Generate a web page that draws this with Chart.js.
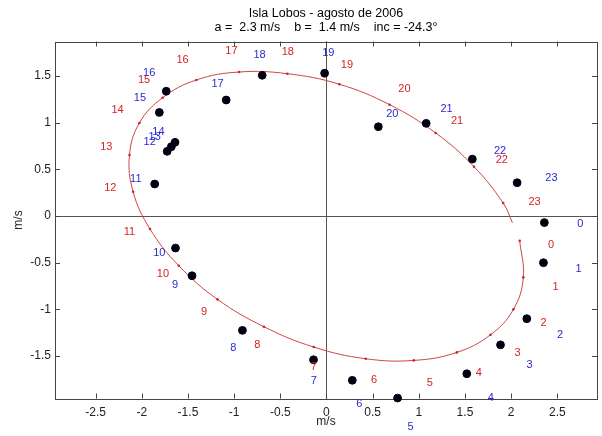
<!DOCTYPE html>
<html lang="es">
<head>
<meta charset="UTF-8" />
<title>Isla Lobos - agosto de 2006</title>
<script src="https://cdn.jsdelivr.net/npm/chart.js"></script>
<style>
  body { margin: 0; background: #fff; }
  #wrap { width: 602px; height: 436px; }
</style>
</head>
<body>
<div id="wrap"><canvas id="chart" width="602" height="436"></canvas></div>
<script>
// hour labels (0..23)
const hours = [0, 1, 2, 3, 4, 5, 6, 7, 8, 9, 10, 11, 12, 13, 14, 15, 16, 17, 18, 19, 20, 21, 22, 23];

// predicted tidal ellipse, hourly points (m/s)
const predX = [2.093, 2.132, 2.025, 1.777, 1.412, 0.946, 0.426, -0.137, -0.677, -1.18, -1.599, -1.911,
               -2.094, -2.133, -2.026, -1.774, -1.409, -0.946, -0.424, 0.14, 0.684, 1.183, 1.598, 1.914];
const predY = [-0.265, -0.657, -1.0, -1.272, -1.461, -1.547, -1.529, -1.404, -1.186, -0.893, -0.533, -0.139,
               0.26, 0.654, 0.997, 1.268, 1.458, 1.543, 1.525, 1.412, 1.193, 0.89, 0.528, 0.139];
// where the drawn curve stops after hour 23
const curveEnd = [2.014, -0.072];

// observed hourly currents (m/s)
const obsX = [2.36, 2.35, 2.17, 1.885, 1.52, 0.77, 0.28, -0.14, -0.91, -1.456, -1.635, -1.86,
              -1.725, -1.68, -1.64, -1.81, -1.735, -1.086, -0.696, -0.02, 0.562, 1.08, 1.58, 2.065];
const obsY = [-0.07, -0.50, -1.10, -1.38, -1.69, -1.95, -1.76, -1.54, -1.225, -0.64, -0.343, 0.343,
              0.693, 0.743, 0.79, 1.11, 1.337, 1.243, 1.508, 1.53, 0.957, 0.993, 0.61, 0.357];

// label anchor points
const obsLabelX = [2.75, 2.73, 2.53, 2.2, 1.78, 0.91, 0.355, -0.137, -1.01, -1.64, -1.81, -2.065,
                   -1.915, -1.86, -1.82, -2.02, -1.92, -1.18, -0.725, 0.02, 0.713, 1.30, 1.88, 2.437];
const obsLabelY = [-0.086, -0.57, -1.275, -1.6, -1.95, -2.26, -2.015, -1.77, -1.41, -0.74, -0.40, 0.393,
                   0.79, 0.843, 0.9, 1.27, 1.53, 1.42, 1.73, 1.75, 1.093, 1.143, 0.70, 0.407];
const predLabelX = [2.433, 2.48, 2.35, 2.07, 1.65, 1.118, 0.516, -0.137, -0.75, -1.327, -1.771, -2.133,
                    -2.341, -2.384, -2.262, -1.975, -1.559, -1.029, -0.419, 0.222, 0.845, 1.415, 1.899, 2.254];
const predLabelY = [-0.31, -0.758, -1.15, -1.465, -1.683, -1.79, -1.761, -1.62, -1.38, -1.029, -0.618, -0.168,
                    0.303, 0.743, 1.136, 1.454, 1.669, 1.772, 1.754, 1.618, 1.361, 1.021, 0.603, 0.15];

const xTicks = [-2.5, -2, -1.5, -1, -0.5, 0, 0.5, 1, 1.5, 2, 2.5];
const yTicks = [-1.5, -1, -0.5, 0, 0.5, 1, 1.5];

const titleLines = ['Isla Lobos - agosto de 2006', 'a =  2.3 m/s    b =  1.4 m/s    inc = -24.3\u00b0'];

const FONT = '"Liberation Sans", Arial, sans-serif';
const RED = '#d42222';
const BLUE = '#2a2ad0';

const curvePts = predX.map((x, i) => ({ x, y: predY[i] }));
curvePts.push({ x: curveEnd[0], y: curveEnd[1] });
const curveRadius = curvePts.map((p, i) => i < predX.length ? 1.3 : 0);

// box with inward ticks on all four sides
const frame = {
  id: 'frame',
  beforeDatasetsDraw(chart) {
    const { ctx, chartArea: a, scales: { x, y } } = chart;
    ctx.save();
    ctx.strokeStyle = '#444';
    ctx.lineWidth = 1;
    ctx.beginPath();
    xTicks.forEach(v => {
      const px = Math.round(x.getPixelForValue(v)) + 0.5;
      ctx.moveTo(px, a.bottom); ctx.lineTo(px, a.bottom - 5);
      ctx.moveTo(px, a.top); ctx.lineTo(px, a.top + 5);
    });
    yTicks.forEach(v => {
      const py = Math.round(y.getPixelForValue(v)) + 0.5;
      ctx.moveTo(a.left, py); ctx.lineTo(a.left + 5, py);
      ctx.moveTo(a.right, py); ctx.lineTo(a.right - 5, py);
    });
    ctx.stroke();
    ctx.strokeRect(Math.round(a.left) + 0.5, Math.round(a.top) + 0.5,
                   Math.round(a.right - a.left), Math.round(a.bottom - a.top));
    ctx.restore();
  }
};

// hour numbers next to points, not clipped
const hourLabels = {
  id: 'hourLabels',
  afterDatasetsDraw(chart) {
    const { ctx, scales: { x, y } } = chart;
    ctx.save();
    ctx.font = '11px ' + FONT;
    ctx.textAlign = 'center';
    ctx.textBaseline = 'middle';
    hours.forEach((h, i) => {
      ctx.fillStyle = RED;
      ctx.fillText(String(h), x.getPixelForValue(predLabelX[i]), y.getPixelForValue(predLabelY[i]));
      ctx.fillStyle = BLUE;
      ctx.fillText(String(h), x.getPixelForValue(obsLabelX[i]), y.getPixelForValue(obsLabelY[i]));
    });
    ctx.restore();
  }
};

const zeroOnly = c => (c.tick && c.tick.value === 0 ? '#555' : 'rgba(0,0,0,0)');
const fmt = v => String(Math.round(v * 10) / 10);

new Chart(document.getElementById('chart'), {
  type: 'scatter',
  data: {
    datasets: [
      {
        label: 'observado',
        data: obsX.map((x, i) => ({ x, y: obsY[i] })),
        backgroundColor: '#000010',
        borderColor: '#000010',
        pointRadius: 3.9,
        showLine: false,
        clip: false,
        order: 0
      },
      {
        label: 'predicho',
        data: curvePts,
        borderColor: 'rgba(200,50,50,0.9)',
        backgroundColor: RED,
        borderWidth: 1,
        pointRadius: curveRadius,
        pointBorderWidth: 0,
        showLine: true,
        tension: 0.4,
        order: 1
      }
    ]
  },
  options: {
    responsive: false,
    animation: false,
    devicePixelRatio: 1,
    layout: { padding: { left: 0, right: -3, top: 0, bottom: 5.5 } },
    plugins: {
      legend: { display: false },
      tooltip: { enabled: false },
      title: {
        display: true,
        fullSize: false,
        text: titleLines,
        color: '#000',
        font: { family: FONT, size: 12.5, weight: 'normal', lineHeight: 1.16 },
        padding: { top: 5.8, bottom: 6.7 }
      }
    },
    scales: {
      x: {
        type: 'linear',
        min: -2.94,
        max: 2.93,
        afterFit: s => { s.height = 32; },
        ticks: { stepSize: 0.5, includeBounds: false, padding: 7, color: '#222',
                 font: { family: FONT, size: 12 }, callback: fmt, maxRotation: 0 },
        grid: { color: zeroOnly, drawTicks: false, lineWidth: 1 },
        border: { display: false },
        title: { display: true, text: 'm/s', color: '#222', padding: { top: 0, bottom: 2 },
                 font: { family: FONT, size: 12 } }
      },
      y: {
        type: 'linear',
        min: -1.955,
        max: 1.87,
        afterFit: s => { s.width = 55; },
        ticks: { stepSize: 0.5, includeBounds: false, padding: 4, color: '#222',
                 font: { family: FONT, size: 12 }, callback: fmt },
        grid: { color: zeroOnly, drawTicks: false, lineWidth: 1 },
        border: { display: false },
        title: { display: true, text: 'm/s', color: '#222', padding: { top: 11, bottom: 0 },
                 font: { family: FONT, size: 12 } }
      }
    }
  },
  plugins: [frame, hourLabels]
});
</script>
</body>
</html>
